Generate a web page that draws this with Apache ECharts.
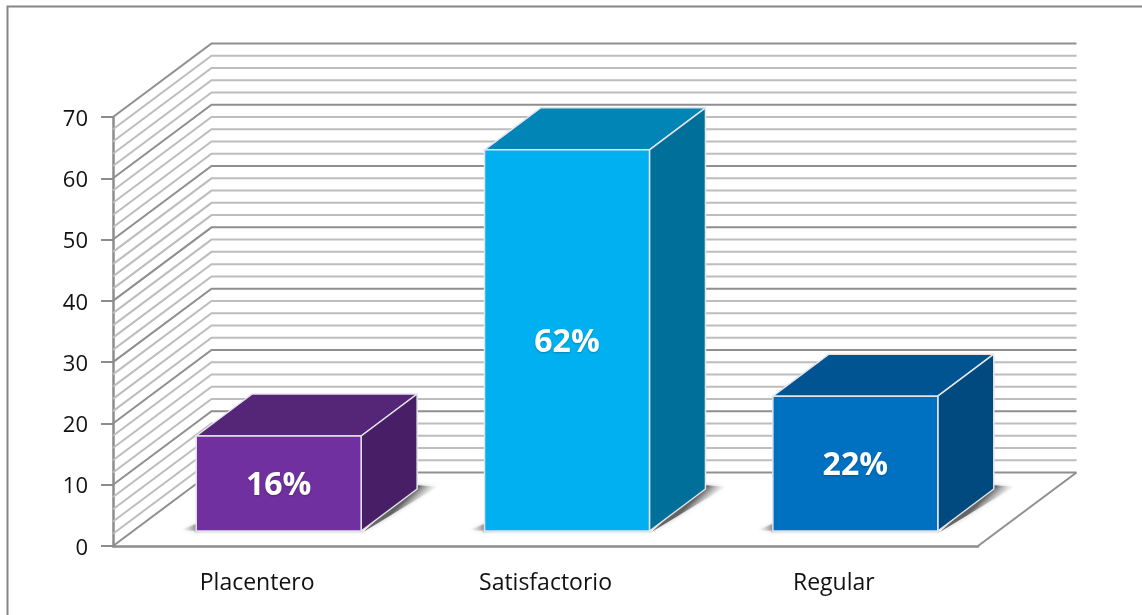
<!DOCTYPE html>
<html><head><meta charset="utf-8">
<style>html,body{margin:0;padding:0;background:#fff}#c{width:1142px;height:615px}</style>
<script src="https://cdn.jsdelivr.net/npm/echarts@6/dist/echarts.min.js"></script>
</head><body><div id="c"></div>
<script>
const categories = ['Placentero', 'Satisfactorio', 'Regular'];
const barValues = [15.5, 62.2, 22];
const barLabels = ['16%', '62%', '22%'];
const majorGrid = [0, 10, 20, 30, 40, 50, 60, 70];
const minorGrid = [2, 4, 6, 8, 12, 14, 16, 18, 22, 24, 26, 28, 32, 34, 36, 38, 42, 44, 46, 48, 52, 54, 56, 58, 62, 64, 66, 68];
const frontColors = ['#7030a0', '#00b0f0', '#0070c0'];
const topColors = ['#552578', '#0085b6', '#005491'];
const sideColors = ['#481f66', '#006f99', '#004a80'];

const WALL = [98.5, -73.5];      // depth of the chart box, in px
const BAR_SHIFT = [21.5, -15];   // bar front relative to the front plane
const BAR_DEPTH = [56, -42];
const BAR_WIDTH = 0.572;

function wallLine(params, api, color, width) {
  const y = api.coord([0, api.value(0)])[1];
  const cs = params.coordSys;
  const L = cs.x, R = cs.x + cs.width;
  const pts = [[L, y], [L + WALL[0], y + WALL[1]], [R + WALL[0], y + WALL[1]]];
  const isFloor = api.value(0) === 0;
  const children = [{
    type: 'polyline',
    shape: { points: pts },
    style: { stroke: color, lineWidth: width, fill: null }
  }];
  if (isFloor) {
    children.push({
      type: 'line',
      shape: { x1: R, y1: y, x2: R + WALL[0], y2: y + WALL[1] },
      style: { stroke: color, lineWidth: width }
    });
  }
  return { type: 'group', children };
}

function grad(x1, y1, x2, y2, a) {
  return new echarts.graphic.LinearGradient(x1, y1, x2, y2, [
    { offset: 0, color: 'rgba(95,95,95,' + a + ')' },
    { offset: 1, color: 'rgba(255,255,255,0)' }
  ], true);
}

function renderBar(params, api) {
  const i = api.value(0), v = api.value(1);
  const base = api.coord([i, 0]);
  const top = api.coord([i, v]);
  const w = api.size([1, 0])[0] * BAR_WIDTH;
  const x0 = base[0] - w / 2 + BAR_SHIFT[0], x1 = x0 + w;
  const y0 = base[1] + BAR_SHIFT[1], y1 = top[1] + BAR_SHIFT[1];
  const dx = BAR_DEPTH[0], dy = BAR_DEPTH[1];
  const edge = { stroke: '#e4e4ea', lineWidth: 1.5, lineJoin: 'round' };
  const poly = (points, fill) => ({
    type: 'polygon', shape: { points },
    style: Object.assign({ fill }, edge)
  });
  const soft = { shadowBlur: 4, shadowColor: 'rgba(130,130,130,0.55)' };
  return {
    type: 'group',
    children: [
      // soft floor shadow: right of the side face
      {
        type: 'polygon',
        shape: { points: [[x1 + 2, y0 + 1], [x1 + dx + 20, y0 + dy - 2], [x1 + dx - 2, y0 + dy - 4]] },
        style: Object.assign({ fill: grad(x1 + dx - 1, y0 + dy, x1 + dx + 10, y0 + dy + 11, 0.95) }, soft)
      },
      // left of the front face
      {
        type: 'polygon',
        shape: { points: [[x0 - 15, y0 - 1], [x0 + 2, y0 - 8], [x0 + 4, y0]] },
        style: Object.assign({ fill: grad(x0 + 2, y0, x0 - 18, y0, 0.8) }, soft)
      },
      // under the front face
      {
        type: 'rect',
        shape: { x: x0 - 2, y: y0, width: w + 4, height: 4 },
        style: { fill: grad(x0, y0, x0, y0 + 4, 0.3) }
      },
      poly([[x0, y1], [x1, y1], [x1 + dx, y1 + dy], [x0 + dx, y1 + dy]], topColors[i]),
      poly([[x1, y0], [x1 + dx, y0 + dy], [x1 + dx, y1 + dy], [x1, y1]], sideColors[i]),
      poly([[x0, y0], [x1, y0], [x1, y1], [x0, y1]], frontColors[i]),
      {
        type: 'text',
        style: {
          text: barLabels[i], x: (x0 + x1) / 2, y: (y0 + y1) / 2 + 2,
          align: 'center', verticalAlign: 'middle',
          fill: '#fff', font: 'bold 32px "Open Sans", Lato, sans-serif',
          textShadowColor: 'rgba(0,0,0,0.25)', textShadowBlur: 2, textShadowOffsetY: 1
        }
      }
    ]
  };
}

const chart = echarts.init(document.getElementById('c'), null, { renderer: 'canvas' });
chart.setOption({
  animation: false,
  backgroundColor: '#fff',
  graphic: [{
    type: 'rect', silent: true, z: -1,
    shape: { x: 7.5, y: 6.5, width: 1400, height: 900 },
    style: { fill: 'none', stroke: '#868686', lineWidth: 2 }
  }],
  grid: { left: 113, right: 164, top: 117, height: 429 },
  xAxis: {
    type: 'category', data: categories,
    axisTick: { show: false },
    axisLine: { lineStyle: { color: '#8c8c8c', width: 2.5 } },
    axisLabel: { color: '#111', fontSize: 23, fontFamily: 'Open Sans', margin: 26 }
  },
  yAxis: {
    type: 'value', min: 0, max: 70, interval: 10,
    splitLine: { show: false },
    axisLine: { show: true, lineStyle: { color: '#8c8c8c', width: 2.5 } },
    axisTick: { show: true, length: 12, lineStyle: { color: '#8c8c8c', width: 2 } },
    axisLabel: {
      margin: 25, formatter: '{t|{value}}',
      rich: { t: { color: '#111', fontSize: 22, fontFamily: 'Open Sans', padding: [5, 0, 0, 0] } }
    }
  },
  series: [
    {
      type: 'custom', coordinateSystem: 'cartesian2d', clip: false, silent: true, z: 1,
      data: minorGrid.map(v => [v]), encode: { y: 0 },
      renderItem: (p, a) => wallLine(p, a, '#bdbdbd', 2)
    },
    {
      type: 'custom', coordinateSystem: 'cartesian2d', clip: false, silent: true, z: 2,
      data: majorGrid.map(v => [v]), encode: { y: 0 },
      renderItem: (p, a) => wallLine(p, a, '#8f8f8f', 2)
    },
    {
      type: 'custom', coordinateSystem: 'cartesian2d', clip: false, silent: true, z: 3,
      data: barValues.map((v, i) => [i, v]), encode: { x: 0, y: 1 },
      renderItem: renderBar
    }
  ]
});
</script></body></html>
